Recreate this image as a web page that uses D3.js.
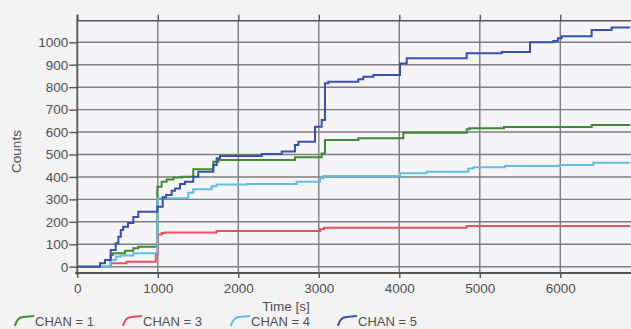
<!DOCTYPE html>
<html>
<head>
<meta charset="utf-8">
<script src="https://cdn.jsdelivr.net/npm/d3@7"></script>
<style>
  html, body { margin: 0; padding: 0; background: #f3f3f4; }
  svg { display: block; font-family: "Liberation Sans", Arial, sans-serif; }
</style>
</head>
<body>
<svg id="chart" width="631" height="329"></svg>
<script>
// Cumulative counts per channel, stored as step change points: time [s] and count.
const chan1Times  = [0, 415, 440, 592, 696, 758, 994, 1048, 1110, 1193, 1296, 1441, 1690, 1752, 2704, 3036, 3077, 3491, 4050, 4837, 4870, 5300, 6390];
const chan1Counts = [0, 52, 60, 71, 82, 89, 356, 379, 389, 397, 401, 434, 468, 475, 488, 505, 565, 572, 597, 612, 617, 622, 631];

const chan3Times  = [0, 415, 613, 975, 1000, 1048, 1089, 1731, 3015, 3065, 4837];
const chan3Counts = [0, 15, 22, 55, 144, 150, 152, 159, 167, 174, 181];

const chan4Times  = [0, 415, 480, 540, 696, 994, 1379, 1441, 1669, 1731, 2104, 2725, 3015, 3056, 4009, 4340, 4857, 4920, 5313, 5996, 6410];
const chan4Counts = [0, 30, 45, 50, 60, 305, 330, 345, 358, 366, 369, 379, 394, 404, 416, 423, 438, 443, 449, 453, 463];

const chan5Times  = [0, 282, 344, 415, 477, 510, 540, 570, 630, 696, 758, 994, 1061, 1102, 1172, 1214, 1276, 1338, 1441, 1503, 1690, 1731, 1773, 2291, 2539, 2704, 2746, 2953, 3036, 3077, 3118, 3491, 3553, 3677, 4009, 4092, 4837, 5272, 5624, 5913, 5970, 6017, 6390, 6638];
const chan5Counts = [0, 15, 30, 74, 105, 134, 163, 178, 195, 221, 245, 267, 309, 320, 339, 349, 369, 379, 401, 423, 453, 483, 493, 502, 513, 542, 557, 624, 654, 817, 824, 835, 847, 854, 906, 929, 951, 957, 1000, 1006, 1018, 1027, 1055, 1066];

const seriesNames = ["CHAN = 1", "CHAN = 3", "CHAN = 4", "CHAN = 5"];
const xTicks = [0, 1000, 2000, 3000, 4000, 5000, 6000];
const yTicks = [0, 100, 200, 300, 400, 500, 600, 700, 800, 900, 1000];
const tMax = 6866;

const colors = ["#3f8a32", "#e8505e", "#62bde6", "#3a4fb4"];

const series = [
  { name: seriesNames[0], t: chan1Times, v: chan1Counts, color: colors[0] },
  { name: seriesNames[1], t: chan3Times, v: chan3Counts, color: colors[1] },
  { name: seriesNames[2], t: chan4Times, v: chan4Counts, color: colors[2] },
  { name: seriesNames[3], t: chan5Times, v: chan5Counts, color: colors[3] }
];

const svg = d3.select("#chart");

const x = d3.scaleLinear().domain([0, tMax]).range([77.3, 630]);
const y = d3.scaleLinear().domain([0, 1000]).range([266.7, 42.3]);

const plotTop = y(1096);
const plotBottom = y(-28);
const plotLeft = x(0);
const plotRight = 631;

// plot background
svg.append("rect")
  .attr("x", plotLeft).attr("y", plotTop)
  .attr("width", plotRight - plotLeft).attr("height", plotBottom - plotTop)
  .attr("fill", "#f5f5f7");

// grid
const grid = svg.append("g").attr("stroke", "#7e7e7e").attr("stroke-width", 1.4);
grid.selectAll("line.h").data(yTicks).join("line")
  .attr("x1", plotLeft).attr("x2", plotRight)
  .attr("y1", d => y(d)).attr("y2", d => y(d));
grid.selectAll("line.v").data(xTicks.slice(1)).join("line")
  .attr("x1", d => x(d)).attr("x2", d => x(d))
  .attr("y1", plotTop).attr("y2", plotBottom);

// series
svg.append("clipPath").attr("id", "clip")
  .append("rect").attr("x", plotLeft).attr("y", plotTop)
  .attr("width", plotRight - plotLeft).attr("height", plotBottom - plotTop);

const line = d3.line()
  .x(d => x(d[0]))
  .y(d => y(d[1]))
  .curve(d3.curveStepAfter);

const lines = svg.append("g").attr("clip-path", "url(#clip)");
series.forEach(s => {
  const pts = s.t.map((t, i) => [t, s.v[i]]);
  pts.push([tMax, s.v[s.v.length - 1]]);
  lines.append("path")
    .datum(pts)
    .attr("fill", "none")
    .attr("stroke", s.color)
    .attr("stroke-width", 2)
    .attr("d", line);
});

// axes
const textColor = "#505050";
const axisColor = "#555555";
const fmt = d3.format("d");

const yAxis = svg.append("g")
  .attr("transform", `translate(${plotLeft},0)`)
  .call(d3.axisLeft(y).tickValues(yTicks).tickSize(8).tickPadding(1).tickFormat(fmt));
const xAxis = svg.append("g")
  .attr("transform", `translate(0,${plotBottom})`)
  .call(d3.axisBottom(x).tickValues(xTicks).tickSize(5).tickPadding(5).tickFormat(fmt));
const topAxis = svg.append("g")
  .attr("transform", `translate(0,${plotTop})`)
  .call(d3.axisTop(x).tickValues(xTicks).tickSize(6).tickFormat(""));

[yAxis, xAxis, topAxis].forEach(a => {
  a.select(".domain").remove();
  a.selectAll(".tick line").attr("stroke", axisColor).attr("stroke-width", 1.4);
  a.selectAll(".tick text")
    .attr("fill", textColor)
    .style("font-size", "13.5px")
    .style("font-family", "'Liberation Sans', Arial, sans-serif");
});

// frame lines
svg.append("line")
  .attr("x1", plotLeft).attr("x2", plotLeft)
  .attr("y1", plotTop - 6).attr("y2", plotBottom + 2)
  .attr("stroke", axisColor).attr("stroke-width", 1.8);
svg.append("line")
  .attr("x1", plotLeft).attr("x2", plotRight)
  .attr("y1", plotTop).attr("y2", plotTop)
  .attr("stroke", axisColor).attr("stroke-width", 1.4);
svg.append("line")
  .attr("x1", plotLeft - 2).attr("x2", plotRight)
  .attr("y1", plotBottom).attr("y2", plotBottom)
  .attr("stroke", axisColor).attr("stroke-width", 1.8);

// axis titles
svg.append("text")
  .attr("x", 286).attr("y", 311)
  .attr("text-anchor", "middle")
  .attr("fill", textColor)
  .style("font-size", "13.5px")
  .text("Time [s]");
svg.append("text")
  .attr("transform", "translate(21,151.5) rotate(-90)")
  .attr("text-anchor", "middle")
  .attr("fill", textColor)
  .style("font-size", "13.5px")
  .text("Counts");

// legend
const legendX = [14, 122, 230, 337];
const legend = svg.append("g");
series.forEach((s, i) => {
  const g = legend.append("g").attr("transform", `translate(${legendX[i]},0)`);
  g.append("path")
    .attr("d", "M1,326 Q3,317.5 9,317 L20,316")
    .attr("fill", "none")
    .attr("stroke", s.color)
    .attr("stroke-width", 2);
  g.append("text")
    .attr("x", 21).attr("y", 325.5)
    .attr("fill", textColor)
    .style("font-size", "13px")
    .text(s.name);
});
</script>
</body>
</html>
